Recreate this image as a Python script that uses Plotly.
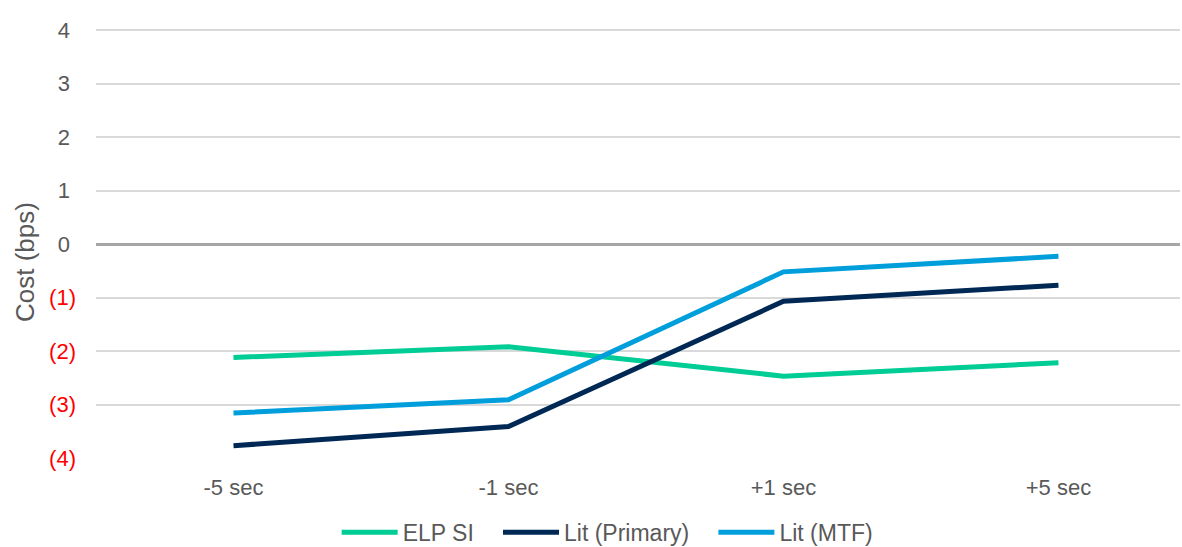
import plotly.graph_objects as go

# Timing buckets around the trade and cost per venue (bps)
categories = ["-5 sec", "-1 sec", "+1 sec", "+5 sec"]
elp_si = [-2.12, -1.92, -2.47, -2.22]
lit_primary = [-3.77, -3.41, -1.07, -0.77]
lit_mtf = [-3.16, -2.91, -0.52, -0.23]

# accounting-style labels: negatives in red parentheses, positives padded to line up
tick_vals = [4, 3, 2, 1, 0, -1, -2, -3, -4]
tick_text = ["4&nbsp;", "3&nbsp;", "2&nbsp;", "1&nbsp;", "0&nbsp;",
             "<span style='color:#FF0000'>(1)</span>",
             "<span style='color:#FF0000'>(2)</span>",
             "<span style='color:#FF0000'>(3)</span>",
             "<span style='color:#FF0000'>(4)</span>"]

# legend names carry trailing non-breaking spaces to widen the gap between entries
series = [
    ("ELP SI&nbsp;&nbsp;&nbsp;", elp_si, "#00CC96"),
    ("Lit (Primary)&nbsp;&nbsp;&nbsp;", lit_primary, "#002855"),
    ("Lit (MTF)", lit_mtf, "#009FDB"),
]

fig = go.Figure()
for name, vals, color in series:
    fig.add_trace(go.Scatter(
        x=list(range(len(categories))), y=vals, name=name, mode="lines",
        line=dict(color=color, width=5),
    ))

fig.update_layout(
    width=1182, height=547,
    margin=dict(l=96, r=2, t=29, b=89, autoexpand=False),
    paper_bgcolor="white", plot_bgcolor="white",
    font=dict(family="Liberation Sans, Arial, sans-serif", size=22, color="#595959"),
    showlegend=True,
    legend=dict(orientation="h", x=0.472, xanchor="center",
                yref="container", y=0.027, yanchor="middle",
                font=dict(size=23, color="#595959"), itemwidth=56,
                tracegroupgap=0, bgcolor="rgba(0,0,0,0)"),
    xaxis=dict(
        tickmode="array", tickvals=list(range(len(categories))), ticktext=categories,
        range=[-0.5, 3.442], showgrid=False, zeroline=False, showline=False,
        ticks="", ticklabelstandoff=14, tickfont=dict(size=22, color="#595959"),
    ),
    yaxis=dict(
        range=[-4.0, 4.02], tickmode="array", tickvals=tick_vals, ticktext=tick_text,
        showgrid=True, gridcolor="#D9D9D9", gridwidth=1.5,
        zeroline=True, zerolinecolor="#A6A6A6", zerolinewidth=2.5,
        showline=False, ticks="", ticklabelstandoff=19,
        tickfont=dict(size=22, color="#595959"),
    ),
    annotations=[dict(
        text="Cost (bps)", xref="paper", yref="paper",
        x=-0.066, y=0.458, xanchor="center", yanchor="middle",
        textangle=-90, showarrow=False,
        font=dict(size=26, color="#595959"),
    )],
)

fig.write_html("out.html")
